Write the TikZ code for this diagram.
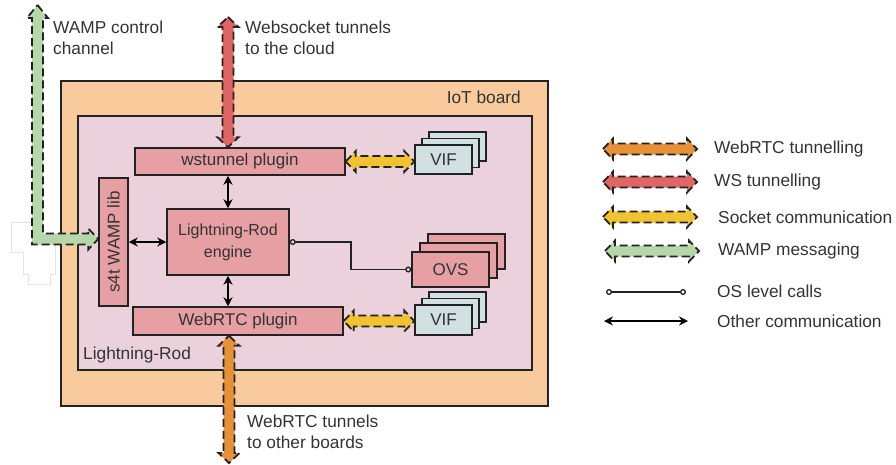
\documentclass[tikz,border=0pt]{standalone}
\usepackage{fontspec}
\setmainfont{Liberation Sans}
\usetikzlibrary{arrows.meta,calc,shapes.geometric}

\definecolor{boardfill}{HTML}{F9CB9C}
\definecolor{lrfill}{HTML}{EAD1DC}
\definecolor{modfill}{HTML}{E69FA3}
\definecolor{viffill}{HTML}{D0E0E3}
\definecolor{orangearr}{HTML}{E69138}
\definecolor{redarr}{HTML}{E06666}
\definecolor{yellowarr}{HTML}{F1C232}
\definecolor{greenarr}{HTML}{B6D7A8}
\definecolor{ink}{HTML}{222222}
\definecolor{txt}{HTML}{333333}

% half shaft width, half head width, head length of the fat arrows
\def\sw{5.5pt}
\def\hw{10.5pt}
\def\hl{10pt}

% horizontal fat double arrow, from a left point to a right point
\newcommand\fatH[3]{%
  \draw[fatline,fill=#1] let \p1=#2, \p2=#3 in
    (\x1,\y1) -- (\x1+\hl,\y1+\hw) -- (\x1+\hl,\y1+\sw) -- (\x2-\hl,\y1+\sw)
    -- (\x2-\hl,\y1+\hw) -- (\x2,\y1) -- (\x2-\hl,\y1-\hw) -- (\x2-\hl,\y1-\sw)
    -- (\x1+\hl,\y1-\sw) -- (\x1+\hl,\y1-\hw) -- cycle;}
% vertical fat double arrow, from an upper point to a lower point
\newcommand\fatV[3]{%
  \draw[fatline,fill=#1] let \p1=#2, \p2=#3 in
    (\x1,\y1) -- (\x1+\hw,\y1-\hl) -- (\x1+\sw,\y1-\hl) -- (\x1+\sw,\y2+\hl)
    -- (\x1+\hw,\y2+\hl) -- (\x1,\y2) -- (\x1-\hw,\y2+\hl) -- (\x1-\sw,\y2+\hl)
    -- (\x1-\sw,\y1-\hl) -- (\x1-\hw,\y1-\hl) -- cycle;}

\tikzset{
  fatline/.style={draw=ink,line width=1.8pt,dash pattern=on 8pt off 4pt,line join=miter},
  area/.style={draw=ink,line width=1.4pt},
  module/.style={draw=ink,line width=1.5pt,fill=modfill,inner sep=0pt,text=txt,
    font=\fontsize{17}{20}\selectfont},
  vifbox/.style={draw=ink,line width=1.5pt,fill=viffill,inner sep=0pt,text=txt,
    minimum width=57pt,font=\fontsize{17}{20}\selectfont},
  label/.style={inner sep=0pt,text=txt,align=left,font=\fontsize{17.3}{21}\selectfont},
  oscall/.style={draw=ink,line width=1.3pt,{Circle[open,length=6pt,width=6pt]}-{Circle[open,length=6pt,width=6pt]}},
  othercomm/.style={draw=black,line width=1.3pt,{Stealth[length=9pt,width=9pt]}-{Stealth[length=9pt,width=9pt]}},
}

\begin{document}
\begin{tikzpicture}[x=1pt,y=-1pt]
\useasboundingbox (0,0) rectangle (896,464);

% enclosing areas
\draw[area,fill=boardfill] (61,81) rectangle (548,406);
\node[label,anchor=east] (boardlbl) at (521,97) {IoT board};
\draw[area,fill=lrfill] (78,116) rectangle (532,370);
\node[label,anchor=west] (lrlbl) at (83,355) {Lightning-Rod};

% modules
\node[module,minimum width=210pt,minimum height=27pt] (wst) at (240,161.5) {wstunnel plugin};
\node[module,minimum width=210pt,minimum height=28pt] (wrtc) at (238,321) {WebRTC plugin};
\node[module,minimum width=122pt,minimum height=66pt,align=center,
      font=\fontsize{16}{22}\selectfont] (eng) at (228,242) {Lightning-Rod\\engine};
\node[module,rotate=90,minimum width=128pt,minimum height=29pt] (s4t) at (113.5,242) {s4t WAMP lib};

% stacked virtual interfaces and switches
\node[vifbox,minimum height=29pt] (vifAc) at (457.5,146.5) {};
\node[vifbox,minimum height=29pt] (vifAb) at (450.5,153) {};
\node[vifbox,minimum height=29pt] (vifA) at (443.5,159.5) {VIF};
\node[vifbox,minimum height=30pt] (vifBc) at (457.5,307) {};
\node[vifbox,minimum height=30pt] (vifBb) at (450.5,313.5) {};
\node[vifbox,minimum height=30pt] (vifB) at (443.5,320) {VIF};
\node[module,minimum width=77pt,minimum height=35pt] (ovsc) at (466.5,251.5) {};
\node[module,minimum width=77pt,minimum height=35pt] (ovsb) at (458.5,260.5) {};
\node[module,minimum width=77pt,minimum height=35pt] (ovs) at (450.5,269.5) {OVS};

% internal communication
\draw[othercomm] (eng.north) -- (eng.north |- wst.south);
\draw[othercomm] (eng.south) -- (eng.south |- wrtc.north);
\draw[othercomm] (s4t.south) -- (eng.west);
\coordinate (osbend) at (351,269.5);
\draw[oscall] (eng.east) -| (osbend) -- (ovs.west);

% socket links to the virtual interfaces
\fatH{yellowarr}{(wst.east)}{(vifA.west)}
\fatH{yellowarr}{(wrtc.east)}{(vifB.west)}

% websocket tunnels to the cloud
\coordinate (cloud) at (228,17);
\fatV{redarr}{(cloud)}{(cloud |- wst.north)}

% WebRTC tunnels to other boards
\coordinate (boards) at (229,463);
\fatV{orangearr}{(boards |- wrtc.south)}{(boards)}

% faint outline on the left edge
\draw[gray!22,line width=0.8pt,fill=white] (32,222) -- (11,222) -- (11,252) -- (23,252)
  -- (23,274) -- (28,274) -- (28,284) -- (50,284) -- (50,274) -- (55,274) -- (55,240);

% WAMP control channel, bending into the WAMP library
\coordinate (wamptop) at (37.5,5);
\coordinate (wampcorner) at (37.5,239);
\draw[fatline,fill=greenarr] let \p1=(wamptop), \p2=(wampcorner), \p3=(wampcorner -| s4t.north) in
  (\x1,\y1) -- (\x1+\hw,\y1-13pt) -- (\x1+\sw,\y1-13pt) -- (\x1+\sw,\y2+\sw)
  -- (\x3-\hl,\y2+\sw) -- (\x3-\hl,\y2+\hw) -- (\x3,\y2) -- (\x3-\hl,\y2-\hw)
  -- (\x3-\hl,\y2-\sw) -- (\x1-\sw,\y2-\sw) -- (\x1-\sw,\y1-13pt) -- (\x1-\hw,\y1-13pt) -- cycle;

% outer labels
\node[label,anchor=west] (wamplbl) at (53,38) {WAMP control\\channel};
\node[label,anchor=west] (cloudlbl) at (245,38) {Websocket tunnels\\to the cloud};
\node[label,anchor=west] (boardslbl) at (247,432) {WebRTC tunnels\\to other boards};

% legend
\coordinate (la1) at (603,149); \coordinate (lb1) at (697,149);
\coordinate (la2) at (603,182); \coordinate (lb2) at (697,182);
\coordinate (la3) at (603,217); \coordinate (lb3) at (697,217);
\coordinate (la4) at (605,251); \coordinate (lb4) at (699,251);
\coordinate (la5) at (606,292); \coordinate (lb5) at (686,292);
\coordinate (la6) at (604,321); \coordinate (lb6) at (688,321);
\fatH{orangearr}{(la1)}{(lb1)}
\fatH{redarr}{(la2)}{(lb2)}
\fatH{yellowarr}{(la3)}{(lb3)}
\fatH{greenarr}{(la4)}{(lb4)}
\draw[oscall] (la5) -- (lb5);
\draw[othercomm] (la6) -- (lb6);
\node[label,anchor=west] (lt1) at (714,149) {WebRTC tunnelling};
\node[label,anchor=west] (lt2) at (714,182) {WS tunnelling};
\node[label,anchor=west] (lt3) at (718,217) {Socket communication};
\node[label,anchor=west] (lt4) at (718,251) {WAMP messaging};
\node[label,anchor=west] (lt5) at (717,291) {OS level calls};
\node[label,anchor=west] (lt6) at (717,321) {Other communication};
\end{tikzpicture}
\end{document}
